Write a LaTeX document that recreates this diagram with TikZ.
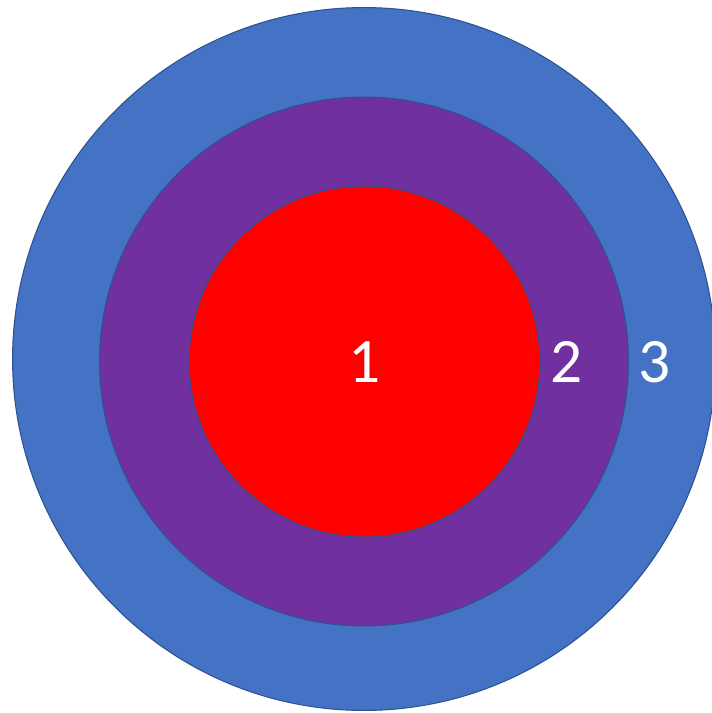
\documentclass[tikz,border=0pt]{standalone}
\usepackage{fontspec}
\setmainfont{Carlito}
\definecolor{RingThreeClr}{rgb}{0.267,0.447,0.769}
\definecolor{RingTwoClr}{rgb}{0.439,0.188,0.627}
\definecolor{RingOneClr}{rgb}{1,0,0}
\definecolor{EdgeClr}{rgb}{0.184,0.322,0.561}

\begin{document}
\begin{tikzpicture}[x=0.02cm,y=-0.02cm,
  ring/.style={circle,draw=EdgeClr,line width=0.6pt,inner sep=0pt},
  num/.style={text=white,font=\fontsize{36}{40}\selectfont,inner sep=0pt}]
\useasboundingbox (0,0) rectangle (711,713);

% the three rings, outer one first
\node[ring,fill=RingThreeClr,minimum size=14.06cm] (outer) at (364,359) {};
\node[ring,fill=RingTwoClr,minimum size=10.58cm] (middle) at (364,361.5) {};
\node[ring,fill=RingOneClr,minimum size=7.02cm] (inner) at (364.5,361.5) {};

% ring numbers
\node[num] (one) at (365,362) {1};
\node[num] (two) at (567,362) {2};
\node[num] (three) at (655,362) {3};

\end{tikzpicture}
\end{document}
